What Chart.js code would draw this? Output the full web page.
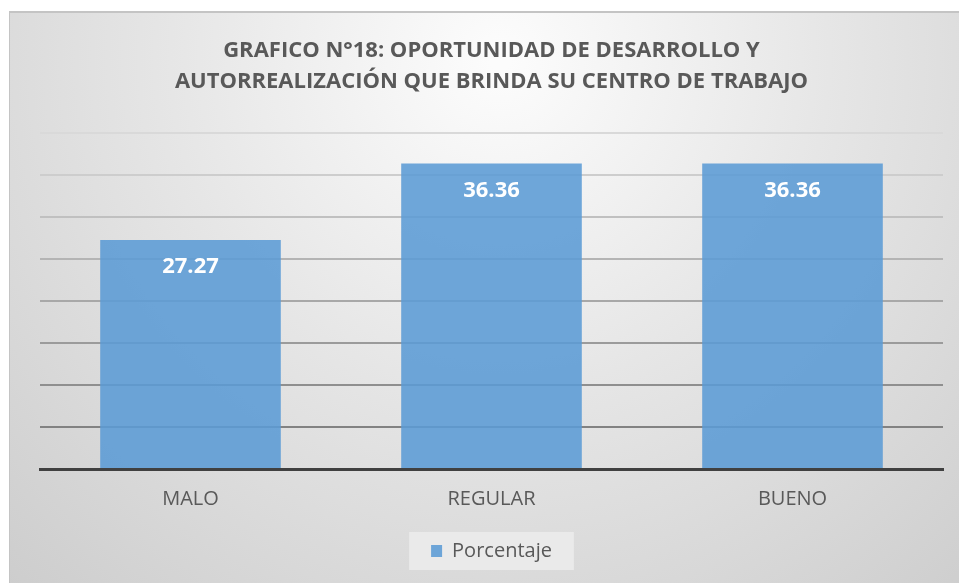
<!DOCTYPE html>
<html>
<head>
<meta charset="utf-8">
<script src="https://cdn.jsdelivr.net/npm/chart.js@4.4.1/dist/chart.umd.min.js"></script>
<style>
  html, body { margin: 0; padding: 0; background: #ffffff; }
  #wrap { width: 959px; height: 583px; position: relative; }
</style>
</head>
<body>
<div id="wrap"><canvas id="c" width="959" height="583"></canvas></div>
<script>
const categories = ['MALO', 'REGULAR', 'BUENO'];
const porcentaje = [27.27, 36.36, 36.36];
const seriesName = 'Porcentaje';
const titleLines = ['GRAFICO N°18: OPORTUNIDAD DE DESARROLLO Y', 'AUTORREALIZACIÓN QUE BRINDA SU CENTRO DE TRABAJO'];
const yMin = 0, yMax = 40, yStep = 5;

const FONT = "'Open Sans', 'Liberation Sans', sans-serif";
const TEXT = '#595959';

const bgPlugin = {
  id: 'bgPanel',
  beforeDraw(chart) {
    const ctx = chart.ctx, w = chart.width, h = chart.height;
    ctx.save();
    ctx.fillStyle = '#ffffff';
    ctx.fillRect(0, 0, w, h);
    ctx.fillStyle = '#c4c4c4';
    ctx.fillRect(9, 11, w - 9, h - 11);
    const g = ctx.createRadialGradient(500, 60, 10, 500, 60, 720);
    g.addColorStop(0, '#fcfcfc');
    g.addColorStop(0.45, '#e6e6e6');
    g.addColorStop(1, '#cdcdcd');
    ctx.fillStyle = g;
    ctx.fillRect(10, 13, w - 10, h - 13);
    const lg = chart.legend;
    if (lg && lg.legendHitBoxes && lg.legendHitBoxes.length) {
      const hb = lg.legendHitBoxes[0];
      ctx.fillStyle = 'rgba(235,235,235,0.9)';
      ctx.fillRect(hb.left - 22, lg.top + 1, hb.width + 44, lg.height - 2);
    }
    ctx.restore();
  }
};

const valuePlugin = {
  id: 'values',
  afterDatasetsDraw(chart) {
    const ctx = chart.ctx;
    const meta = chart.getDatasetMeta(0);
    ctx.save();
    ctx.fillStyle = '#ffffff';
    ctx.font = "bold 22px " + FONT;
    ctx.textAlign = 'center';
    ctx.textBaseline = 'middle';
    meta.data.forEach((bar, i) => {
      ctx.fillText(porcentaje[i].toFixed(2), bar.x, bar.y + 27);
    });
    ctx.restore();
  }
};

function gridColor(ctx) {
  const v = ctx.tick ? ctx.tick.value : 0;
  const t = (v - yMin) / (yMax - yMin);
  const c = Math.round(118 + t * (217 - 118));
  return `rgb(${c},${c},${c})`;
}

new Chart(document.getElementById('c'), {
  type: 'bar',
  data: {
    labels: categories,
    datasets: [{
      label: seriesName,
      data: porcentaje,
      backgroundColor: 'rgba(91,155,213,0.88)',
      borderWidth: 0,
      categoryPercentage: 1.0,
      barPercentage: 0.6
    }]
  },
  options: {
    responsive: false,
    animation: false,
    devicePixelRatio: 1,
    layout: { padding: { left: 40, right: 16, top: 12, bottom: 12 } },
    plugins: {
      title: {
        display: true,
        text: titleLines,
        color: TEXT,
        font: { family: FONT, size: 22, weight: 'bold', lineHeight: 1.43 },
        padding: { top: 23, bottom: 35 }
      },
      legend: {
        display: true,
        position: 'bottom',
        labels: {
          color: TEXT,
          font: { family: FONT, size: 20 },
          boxWidth: 11,
          boxHeight: 12,
          padding: 10,
          useBorderRadius: false
        }
      },
      tooltip: { enabled: false }
    },
    scales: {
      x: {
        offset: true,
        grid: { display: false, drawTicks: false },
        border: { display: true, color: '#404040', width: 3 },
        ticks: {
          color: TEXT,
          font: { family: FONT, size: 20 },
          padding: 18
        },
        afterFit(s) { s.height = 62; }
      },
      y: {
        min: yMin,
        max: yMax,
        ticks: { display: false, stepSize: yStep },
        grid: { color: gridColor, lineWidth: 2, drawTicks: false },
        border: { display: false },
        afterFit(s) { s.width = 0; }
      }
    }
  },
  plugins: [bgPlugin, valuePlugin]
});
</script>
</body>
</html>
